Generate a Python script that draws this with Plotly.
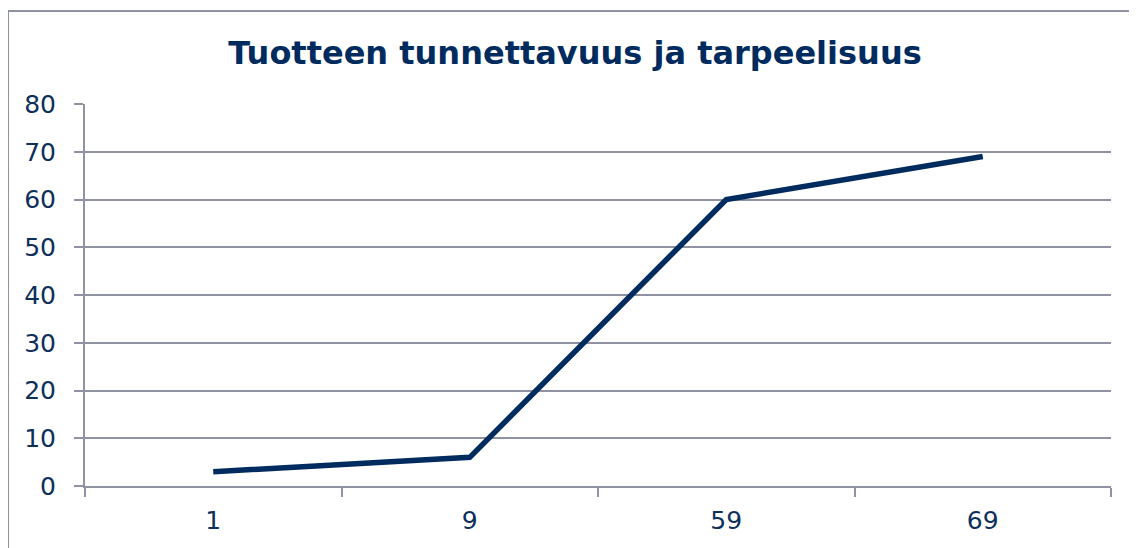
import plotly.graph_objects as go

categories = ["1", "9", "59", "69"]
values = [3, 6, 60, 69]
title_text = "Tuotteen tunnettavuus ja tarpeelisuus"

navy = "#002b5e"
text_color = "#0d2f5c"
grid = "#8e92a3"

# page body has an 8px margin; compensate so the plot lands where the reference has it
L, T, R, B = 77, 96, 34, 70
PW = 1137 - L - R
PH = 548 - T - B

fig = go.Figure()
fig.add_trace(go.Scatter(x=categories, y=values, mode="lines",
                         line=dict(color=navy, width=5.5), hoverinfo="skip"))

fig.update_layout(
    width=1137, height=548,
    margin=dict(l=L, r=R, t=T, b=B),
    paper_bgcolor="white", plot_bgcolor="white",
    showlegend=False,
    font=dict(family="DejaVu Sans, Verdana, sans-serif", color=text_color, size=25),
    title=dict(text="<b>" + title_text + "</b>", x=(575 - 8) / 1137, xanchor="center",
               y=1 - 45 / 548, yanchor="middle",
               font=dict(size=32, color=navy)),
    xaxis=dict(type="category", range=[-0.5, 3.5], tickson="boundaries",
               ticks="outside", ticklen=9, tickcolor=grid, tickwidth=2,
               showline=True, linecolor=grid, linewidth=2,
               showgrid=False, zeroline=False, ticklabelstandoff=11,
               tickfont=dict(size=25, color=text_color)),
    yaxis=dict(range=[0, 80], dtick=10, tick0=0,
               ticks="outside", ticklen=9, tickcolor=grid, tickwidth=2,
               showline=True, linecolor=grid, linewidth=2,
               showgrid=True, gridcolor=grid, gridwidth=2, zeroline=False,
               ticklabelstandoff=13,
               tickfont=dict(size=25, color=text_color)),
    shapes=[dict(type="rect", xref="paper", yref="paper",
                 x0=(0 - L) / PW, x1=(1150 - L) / PW,
                 y0=(PH - 560) / PH, y1=(PH + T - 3) / PH,
                 line=dict(color=grid, width=2), layer="below")],
)

fig.write_html("out.html")
